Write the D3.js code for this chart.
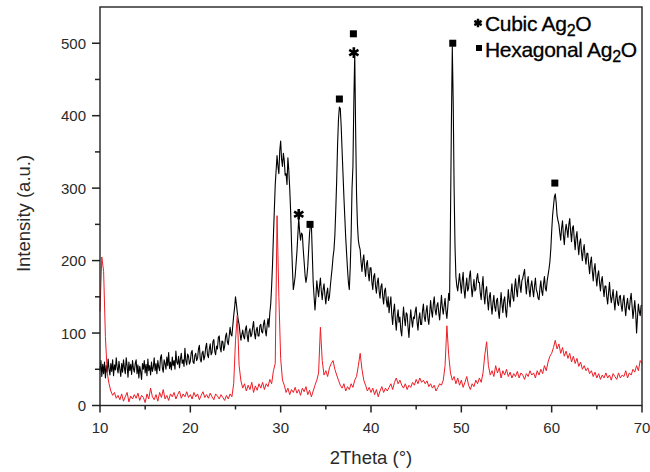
<!DOCTYPE html>
<html>
<head>
<meta charset="utf-8">
<script src="https://cdn.jsdelivr.net/npm/d3@7"></script>
<style>
  body { margin: 0; background: #fff; }
  svg { display: block; font-family: "Liberation Sans", Arial, sans-serif; }
</style>
</head>
<body>
<div id="chart"></div>
<script>
// black pattern: 10.0 to 70.0 deg in 0.1 steps, one row = 2 degrees
var blackStart = 10, blackStep = 0.1;
var blackCounts = [
  48, 62, 40, 57, 44, 60, 38, 55, 46, 64, 50, 42, 58, 47, 63, 41, 56, 49, 66, 52,
  45, 61, 50, 40, 58, 46, 63, 52, 44, 66, 55, 39, 60, 48, 57, 43, 62, 51, 46, 58,
  63, 44, 56, 38, 54, 47, 36, 58, 50, 62, 45, 57, 41, 64, 48, 55, 42, 60, 47, 53,
  66, 48, 58, 44, 62, 53, 48, 66, 70, 52, 46, 63, 58, 50, 67, 55, 73, 51, 60, 49,
  67, 55, 62, 50, 75, 60, 57, 68, 52, 64, 72, 58, 63, 54, 79, 62, 56, 71, 68, 57,
  61, 73, 76, 60, 58, 69, 72, 62, 65, 78, 83, 64, 60, 72, 75, 63, 68, 80, 86, 70,
  66, 78, 85, 70, 73, 88, 91, 75, 70, 82, 78, 94, 96, 80, 74, 89, 88, 76, 82, 95,
  100, 88, 84, 96, 108, 98, 96, 110, 124, 135, 150, 140, 128, 118, 112, 100, 90, 98, 104, 95,
  92, 105, 110, 96, 88, 102, 106, 95, 98, 108, 116, 100, 92, 104, 108, 96, 96, 110, 112, 102,
  100, 112, 118, 104, 96, 110, 120, 108, 128, 140, 165, 195, 235, 270, 305, 325, 345, 330, 320, 352,
  365, 340, 330, 348, 338, 318, 320, 305, 342, 325, 300, 270, 225, 190, 160, 168, 178, 195, 212, 235,
  258, 240, 228, 238, 236, 215, 198, 180, 170, 178, 192, 215, 238, 250, 250, 210, 170, 150, 132, 150,
  172, 160, 150, 165, 176, 158, 146, 160, 168, 152, 140, 155, 162, 145, 150, 165, 178, 190, 205, 215,
  235, 270, 310, 360, 395, 412, 410, 385, 352, 320, 288, 260, 232, 210, 188, 170, 160, 190, 235, 300,
  330, 420, 485, 380, 292, 250, 228, 220, 215, 198, 185, 200, 208, 190, 178, 195, 200, 182, 172, 190,
  190, 170, 160, 178, 182, 165, 155, 170, 176, 158, 148, 164, 168, 150, 140, 158, 162, 145, 136, 150,
  128, 140, 150, 125, 112, 130, 140, 118, 104, 122, 132, 115, 122, 104, 96, 118, 136, 120, 110, 128,
  126, 108, 94, 115, 132, 118, 108, 122, 120, 130, 136, 115, 104, 120, 128, 112, 112, 130, 140, 122,
  116, 130, 138, 120, 112, 128, 145, 130, 122, 140, 150, 132, 125, 138, 142, 128, 118, 136, 152, 135,
  126, 138, 148, 130, 120, 136, 155, 145, 260, 390, 495, 420, 300, 220, 178, 165, 158, 170, 182, 168,
  155, 172, 184, 160, 148, 165, 176, 158, 162, 178, 186, 165, 150, 162, 174, 158, 160, 175, 182, 170,
  170, 155, 146, 165, 178, 152, 140, 158, 164, 145, 132, 150, 156, 138, 126, 142, 152, 136, 130, 145,
  148, 130, 120, 138, 156, 140, 128, 145, 150, 132, 122, 140, 160, 145, 136, 155, 168, 150, 144, 162,
  175, 160, 150, 168, 180, 165, 156, 172, 176, 182, 188, 168, 154, 170, 178, 160, 150, 165, 172, 160,
  150, 165, 176, 160, 156, 148, 146, 162, 172, 158, 152, 168, 178, 162, 158, 172, 180, 188, 198, 215,
  240, 262, 275, 288, 292, 280, 262, 255, 250, 238, 228, 245, 255, 235, 222, 240, 250, 242, 232, 250,
  258, 240, 226, 245, 248, 230, 215, 232, 240, 222, 208, 225, 230, 212, 200, 215, 222, 205, 195, 210,
  210, 195, 182, 198, 205, 186, 172, 188, 196, 178, 165, 180, 186, 170, 158, 172, 178, 162, 150, 165,
  165, 150, 140, 156, 170, 152, 142, 150, 160, 145, 132, 148, 158, 142, 138, 150, 152, 138, 130, 145,
  152, 136, 124, 140, 148, 135, 132, 146, 155, 138, 120, 132, 145, 128, 100, 122, 140, 130, 124, 138,
  138
];

// red pattern: 10.0 to 70.0 deg in 0.2 steps, one row = 2 degrees
var redStart = 10, redStep = 0.2;
var redCounts = [
  130, 205, 185, 95, 45, 30, 20, 14, 18, 10,
  14, 8, 16, 6, 12, 18, 5, 13, 9, 15,
  10, 17, 7, 14, 11, 4, 16, 9, 24, 12,
  8, 15, 6, 18, 11, 22, 9, 14, 7, 16,
  12, 18, 9, 15, 20, 10, 16, 12, 19, 11,
  15, 9, 18, 12, 16, 8, 14, 19, 11, 15,
  10, 17, 12, 8, 16, 13, 9, 15, 11, 7,
  14, 9, 16, 12, 30, 90, 125, 55, 34, 24,
  30, 20, 28, 22, 32, 18, 27, 21, 30, 24,
  32, 22, 30, 26, 36, 30, 48, 58, 262, 150,
  65, 35, 28, 18, 24, 15, 22, 18, 25, 17,
  22, 14, 24, 19, 26, 15, 21, 12, 20, 28,
  35, 45, 108, 62, 42, 48, 40, 52, 58, 62,
  50, 42, 35, 28, 24, 30, 20, 26, 22, 30,
  25, 35, 40, 55, 72, 50, 35, 28, 20, 25,
  18, 24, 15, 22, 12, 20, 26, 18, 24, 20,
  25, 30, 22, 32, 38, 30, 35, 28, 24, 30,
  22, 28, 25, 32, 28, 36, 30, 38, 32, 35,
  30, 34, 26, 30, 24, 28, 20, 25, 30, 28,
  35, 55, 110, 70, 45, 35, 40, 30, 38, 28,
  35, 25, 32, 40, 28, 22, 30, 26, 35, 30,
  38, 32, 45, 70, 88, 55, 42, 48, 40, 55,
  45, 52, 38, 48, 42, 50, 40, 46, 38, 44,
  40, 47, 38, 45, 42, 36, 44, 40, 48, 42,
  45, 38, 48, 42, 50, 44, 55, 48, 60, 68,
  72, 80, 90, 78, 85, 72, 80, 68, 75, 65,
  72, 60, 68, 58, 65, 54, 60, 50, 55, 48,
  52, 44, 48, 40, 46, 38, 44, 36, 42, 38,
  45, 38, 42, 35, 44, 40, 36, 45, 38, 42,
  40, 48, 38, 45, 42, 50, 46, 55, 48, 62,
  58
];

// peak markers: [2theta, intensity]
var hexPeaks = [[38.05, 513], [36.5, 423], [33.25, 250], [49.05, 500], [60.35, 307]];
var cubicPeaks = [[38.1, 487], [32.0, 264]];

var xTicks = [10, 20, 30, 40, 50, 60, 70];
var xMinorTicks = [15, 25, 35, 45, 55, 65];
var yTicks = [0, 100, 200, 300, 400, 500];
var yMinorTicks = [50, 150, 250, 350, 450];

var width = 650, height = 472;
var x = d3.scaleLinear().domain([10, 70]).range([100, 642]);
var y = d3.scaleLinear().domain([0, 550]).range([405.5, 7]);

var svg = d3.select("#chart").append("svg")
    .attr("width", width)
    .attr("height", height);

function toPoints(arr, start, step) {
    return arr.map(function (v, i) { return [start + i * step, v]; });
}

var line = d3.line()
    .x(function (d) { return x(d[0]); })
    .y(function (d) { return y(d[1]); });

var plot = svg.append("g");

plot.append("path")
    .datum(toPoints(blackCounts, blackStart, blackStep))
    .attr("fill", "none")
    .attr("stroke", "#000")
    .attr("stroke-width", 1.1)
    .attr("stroke-linejoin", "round")
    .attr("d", line);

plot.append("path")
    .datum(toPoints(redCounts, redStart, redStep))
    .attr("fill", "none")
    .attr("stroke", "#ee1c25")
    .attr("stroke-width", 1)
    .attr("stroke-linejoin", "round")
    .attr("d", line);

// frame
svg.append("rect")
    .attr("x", x(10)).attr("y", y(550))
    .attr("width", x(70) - x(10)).attr("height", y(0) - y(550))
    .attr("fill", "none").attr("stroke", "#222").attr("stroke-width", 1.4);

// tick marks, drawn outward
var xTickData = xTicks.map(function (t) { return { v: t, len: 7 }; })
    .concat(xMinorTicks.map(function (t) { return { v: t, len: 4 }; }));
var yTickData = yTicks.map(function (t) { return { v: t, len: 8 }; })
    .concat(yMinorTicks.map(function (t) { return { v: t, len: 5 }; }));

svg.selectAll("line.xt")
    .data(xTickData)
    .enter().append("line")
    .attr("class", "xt")
    .attr("x1", function (d) { return x(d.v); })
    .attr("x2", function (d) { return x(d.v); })
    .attr("y1", y(0))
    .attr("y2", function (d) { return y(0) + d.len; })
    .style("stroke", "#222")
    .style("stroke-width", "1.5px");

svg.selectAll("line.yt")
    .data(yTickData)
    .enter().append("line")
    .attr("class", "yt")
    .attr("x1", x(10))
    .attr("x2", function (d) { return x(10) - d.len; })
    .attr("y1", function (d) { return y(d.v); })
    .attr("y2", function (d) { return y(d.v); })
    .style("stroke", "#222")
    .style("stroke-width", "1.5px");

// tick labels
svg.append("g").selectAll("text")
    .data(xTicks)
    .enter().append("text")
    .attr("x", function (d) { return x(d); })
    .attr("y", y(0) + 27)
    .attr("text-anchor", "middle")
    .attr("fill", "#2a2a2a")
    .style("font-size", "15px")
    .text(function (d) { return d; });

svg.append("g").selectAll("text")
    .data(yTicks)
    .enter().append("text")
    .attr("x", x(10) - 14)
    .attr("y", function (d) { return y(d) + 5.5; })
    .attr("text-anchor", "end")
    .attr("fill", "#2a2a2a")
    .style("font-size", "15px")
    .text(function (d) { return d; });

// axis titles
svg.append("text")
    .attr("x", (x(10) + x(70)) / 2)
    .attr("y", 464)
    .attr("text-anchor", "middle")
    .attr("fill", "#2a2a2a")
    .style("font-size", "18.5px")
    .text("2Theta (°)");

svg.append("text")
    .attr("transform", "translate(30," + y(265) + ") rotate(-90)")
    .attr("text-anchor", "middle")
    .attr("fill", "#2a2a2a")
    .style("font-size", "18.5px")
    .text("Intensity (a.u.)");

// peak markers
var asterisk = d3.symbol().type(d3.symbolAsterisk).size(80);

svg.selectAll("rect.hex")
    .data(hexPeaks)
    .enter().append("rect")
    .attr("class", "hex")
    .attr("x", function (d) { return x(d[0]) - 3.5; })
    .attr("y", function (d) { return y(d[1]) - 3.5; })
    .attr("width", 7).attr("height", 7)
    .attr("fill", "#000");

svg.selectAll("path.cubic")
    .data(cubicPeaks)
    .enter().append("path")
    .attr("class", "cubic")
    .attr("transform", function (d) { return "translate(" + x(d[0]) + "," + y(d[1]) + ")"; })
    .attr("d", asterisk)
    .attr("fill", "none")
    .attr("stroke", "#000")
    .attr("stroke-width", 2.6);

// legend
var legend = svg.append("g");
legend.append("path")
    .attr("transform", "translate(478,23)")
    .attr("d", d3.symbol().type(d3.symbolAsterisk).size(50))
    .attr("fill", "none").attr("stroke", "#000").attr("stroke-width", 2.4);
legend.append("rect")
    .attr("x", 476).attr("y", 45).attr("width", 6).attr("height", 6)
    .attr("fill", "#000");

var legendRows = [["Cubic ", 31], ["Hexagonal ", 57]];
legendRows.forEach(function (r) {
    var t = legend.append("text")
        .attr("x", 485).attr("y", r[1])
        .attr("fill", "#000")
        .attr("stroke", "#000").attr("stroke-width", 0.3)
        .style("font-size", "21px")
        .style("letter-spacing", "-0.3px");
    t.append("tspan").text(r[0] + "Ag");
    t.append("tspan").attr("dy", 5).style("font-size", "16px").text("2");
    t.append("tspan").attr("dy", -5).text("O");
});
</script>
</body>
</html>
